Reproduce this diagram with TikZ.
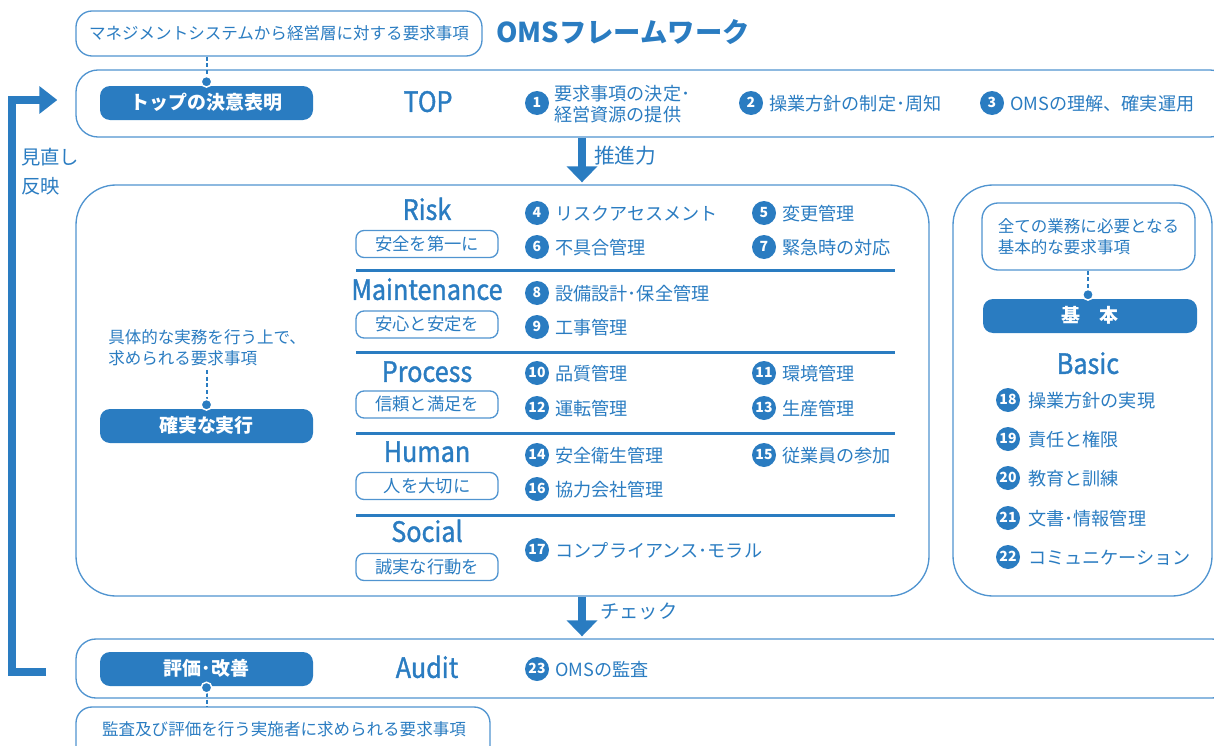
\documentclass[tikz,border=0pt]{standalone}
\usepackage{fontspec}
\setmainfont{Noto Sans CJK JP}
\newfontfamily\headfont{Noto Sans CJK JP}[FakeBold=1.2,FakeStretch=0.9]
\usetikzlibrary{arrows.meta}
\definecolor{oblue}{RGB}{42,124,193}
\definecolor{oline}{RGB}{80,148,208}
\tikzset{
  bigbox/.style={draw=oline, line width=1pt, inner sep=0pt},
  callout/.style={draw=oline, line width=1pt, rounded corners=12pt, inner sep=0pt, text=oblue,
    font=\fontsize{12.4}{15.75}\selectfont},
  ctext/.style={inner sep=0pt, text=oblue, font=\fontsize{12.4}{15.75}\selectfont, align=left},
  button/.style={fill=oblue, rounded corners=7.5pt, text=white, inner sep=0pt,
    minimum width=159.75pt, minimum height=25.5pt, font=\bfseries\fontsize{14.2}{14.2}\selectfont,
    text height=0.92em, text depth=0pt},
  subbox/.style={draw=oline, line width=1pt, rounded corners=6pt, inner sep=0pt, text=oblue,
    minimum width=106.5pt, minimum height=20.25pt, font=\fontsize{13}{13}\selectfont,
    text height=0.92em, text depth=0pt},
  head/.style={inner sep=0pt, text=oblue, font=\headfont\fontsize{21}{22}\selectfont,
    text height=0.73em, text depth=0pt, yshift=-3pt},
  numc/.style={circle, fill=oblue, text=white, minimum size=18pt, inner sep=0pt,
    font=\bfseries\fontsize{10.5}{10.5}\selectfont, text height=0.72em, text depth=0pt},
  itxt/.style={anchor=west, inner sep=0pt, text=oblue, font=\fontsize{13.6}{15.75}\selectfont,
    text height=0.72em, text depth=0pt, yshift=-1.8pt},
  lbl/.style={anchor=west, inner sep=0pt, text=oblue, font=\fontsize{14.5}{21}\selectfont,
    text height=0.72em, text depth=0pt, yshift=-1.5pt},
  sepline/.style={draw=oblue, line width=2.25pt},
  dashc/.style={draw=oblue, line width=1.5pt, dash pattern=on 3pt off 2pt},
  dotc/.style={fill=oblue, draw=white, line width=1.1pt},
  downarr/.style={draw=oblue, line width=6.5pt, -{Triangle[length=12pt,width=22.5pt]}},
  fbarr/.style={draw=oblue, line width=6pt, -{Triangle[length=13.5pt,width=20pt]}}
}
\newcommand\omsitem[5]{%
  \node[numc] (n#1) at (#2,#3) {#4};
  \node[itxt] (t#1) at ([xshift=13.5pt]n#1.center) {#5};}
\begin{document}
\begin{tikzpicture}[x=0.75pt,y=-0.75pt]
\useasboundingbox (0,0) rectangle (1214,746);
\clip (0,0) rectangle (1214,746);

% ---------- TOP ----------
\node[callout, minimum width=304.5pt, minimum height=33.75pt] (c1) at (279,33.5)
  {マネジメントシステムから経営層に対する要求事項};
\node[anchor=west, inner sep=0pt, text=oblue, font=\bfseries\fontsize{20.5}{21}\selectfont,
  text height=0.76em, text depth=0pt] (title) at (496,37) {OMSフレームワーク};

\node[bigbox, rounded corners=16.5pt, minimum width=867pt, minimum height=50.25pt] (topbox) at (654,103.5) {};
\node[button] (b1) at (206.5,103) {トップの決意表明};
\draw[dashc] (c1.south -| b1) -- (b1.north);
\fill[dotc] ([yshift=3pt]b1.north) circle (4pt);
\node[head] (htop) at (428,103) {TOP};

\node[numc] (n1) at (537,103) {1};
\node[itxt] (t1a) at (554,93) {要求事項の決定･};
\node[itxt] (t1b) at (554,114) {経営資源の提供};
\omsitem{2}{751}{103}{2}{操業方針の制定･周知}
\omsitem{3}{992}{103}{3}{OMSの理解、確実運用}

% ---------- main box ----------
\node[bigbox, rounded corners=30pt, minimum width=639.75pt, minimum height=308.25pt] (mainbox) at (502.5,390.5) {};
\coordinate (ax) at (582,0);
\draw[downarr] (topbox.south -| ax) -- ([yshift=1.5pt]mainbox.north -| ax);
\node[lbl, font=\fontsize{15.5}{21}\selectfont] (lpush) at (594,157) {推進力};

\node[ctext, anchor=west] (c2) at (108,347.5) {具体的な実務を行う上で、\\求められる要求事項};
\node[button] (b2) at (206.5,426) {確実な実行};
\draw[dashc] ([yshift=-3pt]c2.south -| b2) -- (b2.north);
\fill[dotc] ([yshift=3pt]b2.north) circle (4pt);

% categories
\node[head] (hrisk) at (427,211) {Risk};
\node[subbox] (srisk) at (427,244) {安全を第一に};
\node[head] (hmnt) at (427,291) {Maintenance};
\node[subbox] (smnt) at (427,324.5) {安心と安定を};
\node[head] (hproc) at (427,373) {Process};
\node[subbox] (sproc) at (427,404.5) {信頼と満足を};
\node[head] (hhum) at (427,453) {Human};
\node[subbox] (shum) at (427,486) {人を大切に};
\node[head] (hsoc) at (427,533) {Social};
\node[subbox] (ssoc) at (427,567) {誠実な行動を};

\draw[sepline] (356,270) -- (895,270);
\draw[sepline] (356,352) -- (895,352);
\draw[sepline] (356,433) -- (895,433);
\draw[sepline] (356,515) -- (895,515);

\omsitem{4}{537}{213}{4}{リスクアセスメント}
\omsitem{5}{764}{213}{5}{変更管理}
\omsitem{6}{537}{247}{6}{不具合管理}
\omsitem{7}{764}{247}{7}{緊急時の対応}
\omsitem{8}{537}{293}{8}{設備設計･保全管理}
\omsitem{9}{537}{327}{9}{工事管理}
\omsitem{10}{537}{373}{10}{品質管理}
\omsitem{11}{764}{373}{11}{環境管理}
\omsitem{12}{537}{408}{12}{運転管理}
\omsitem{13}{764}{408}{13}{生産管理}
\omsitem{14}{537}{455}{14}{安全衛生管理}
\omsitem{15}{764}{455}{15}{従業員の参加}
\omsitem{16}{537}{489}{16}{協力会社管理}
\omsitem{17}{537}{550}{17}{コンプライアンス･モラル}

% ---------- Basic ----------
\node[bigbox, rounded corners=30pt, minimum width=194.25pt, minimum height=308.25pt] (basicbox) at (1082.5,390.5) {};
\node[callout, align=left, minimum width=159.75pt, minimum height=50.25pt] (c3) at (1088.5,236.5)
  {全ての業務に必要となる\\基本的な要求事項};
\node[button, minimum width=160.5pt] (b3) at (1090,316) {基\hspace{1em}本};
\draw[dashc] (c3.south -| 1088,0) -- (b3.north -| 1088,0);
\fill[dotc] ([yshift=3pt]b3.north -| 1088,0) circle (4pt);
\node[head] (hbasic) at (1088,365) {Basic};
\node[numc] (n18) at (1008,400) {18};
\node[itxt] (t18) at (1028,400) {操業方針の実現};
\node[numc] (n19) at (1008,439) {19};
\node[itxt] (t19) at (1028,439) {責任と権限};
\node[numc] (n20) at (1008,478) {20};
\node[itxt] (t20) at (1028,478) {教育と訓練};
\node[numc] (n21) at (1008,518) {21};
\node[itxt] (t21) at (1028,518) {文書･情報管理};
\node[numc] (n22) at (1008,557) {22};
\node[itxt] (t22) at (1028,557) {コミュニケーション};

% ---------- Audit ----------
\node[bigbox, rounded corners=15pt, minimum width=867pt, minimum height=44.25pt] (auditbox) at (654,668.5) {};
\draw[downarr] (mainbox.south -| ax) -- ([yshift=1.5pt]auditbox.north -| ax);
\node[lbl] (lcheck) at (600,612) {チェック};
\node[button] (b4) at (206.5,669) {評価･改善};
\node[head] (haudit) at (427,669) {Audit};
\omsitem{23}{537}{669}{23}{OMSの監査}
\node[bigbox, rounded corners=12pt, minimum width=310.5pt, minimum height=43.5pt] (c4) at (283,736) {};
\node[ctext] (c4t) at (284,729) {監査及び評価を行う実施者に求められる要求事項};
\draw[dashc] (b4.south) -- (c4.north -| b4);
\fill[dotc] ([yshift=-1pt]b4.south) circle (4pt);

% ---------- feedback ----------
\coordinate (fbs) at (46,672);
\coordinate (fbc) at (12,100);
\draw[fbarr] (fbs) -| (fbc) -- ([xshift=-13.5pt]topbox.west |- fbc);
\node[lbl] (lrev1) at (21,158) {見直し};
\node[lbl] (lrev2) at (21,187) {反映};
\end{tikzpicture}
\end{document}
